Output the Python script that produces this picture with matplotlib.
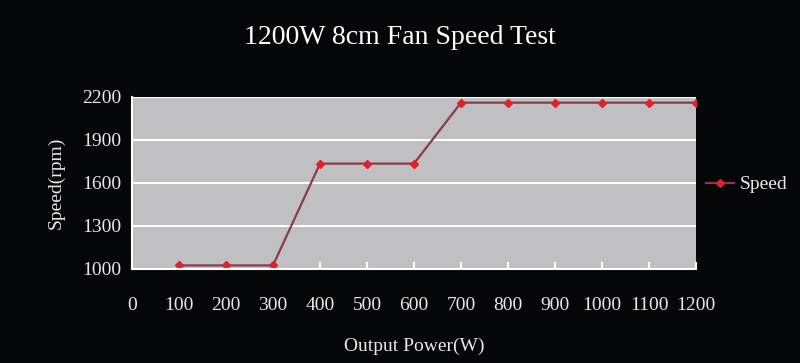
import matplotlib.pyplot as plt
import numpy as np

power = [100, 200, 300, 400, 500, 600, 700, 800, 900, 1000, 1100, 1200]
speed = [1025, 1025, 1025, 1735, 1735, 1735, 2160, 2160, 2160, 2160, 2160, 2160]
x_ticks = list(range(0, 1300, 100))
y_ticks = [1000, 1300, 1600, 1900, 2200]

plt.rcParams['font.family'] = ['Liberation Serif', 'DejaVu Serif']

fig = plt.figure(figsize=(8, 3.63), dpi=100, facecolor='#050608')
ax = fig.add_axes([0.165, 0.259, 0.705, 0.474])
ax.set_facecolor('#c0c0c2')

ax.plot(power, speed, color='#8a3a4c', lw=1.6, marker='D', ms=4,
        mfc='#e0202a', mec='#e0202a', label='Speed')

ax.set_xlim(0, 1200)
ax.set_ylim(1000, 2200)
ax.set_xticks(x_ticks)
ax.set_yticks(y_ticks)
ax.yaxis.grid(True, color='white', lw=1.5)
ax.set_axisbelow(True)

for side in ['top', 'right']:
    ax.spines[side].set_visible(False)
for side in ['left', 'bottom']:
    ax.spines[side].set_color('white')
    ax.spines[side].set_linewidth(1.5)

ax.tick_params(axis='x', direction='in', length=5, color='white', width=1.5,
               labelcolor='#e8e8e8', labelsize=14, pad=20)
ax.tick_params(axis='y', length=0, labelcolor='#e8e8e8', labelsize=14, pad=8)

ax.set_xlabel('Output Power(W)', color='#e8e8e8', fontsize=14, labelpad=17)
ax.set_ylabel('Speed(rpm)', color='#e8e8e8', fontsize=14, labelpad=12)
fig.suptitle('1200W 8cm Fan Speed Test', color='white', fontsize=20, y=0.93)

leg = ax.legend(loc='center left', bbox_to_anchor=(1.0, 0.49), frameon=False,
                fontsize=14, handlelength=1.45, handletextpad=0.3,
                borderaxespad=0.3, borderpad=0.2)
for t in leg.get_texts():
    t.set_color('#e8e8e8')

fig.savefig('out.png', dpi=100, facecolor=fig.get_facecolor())
